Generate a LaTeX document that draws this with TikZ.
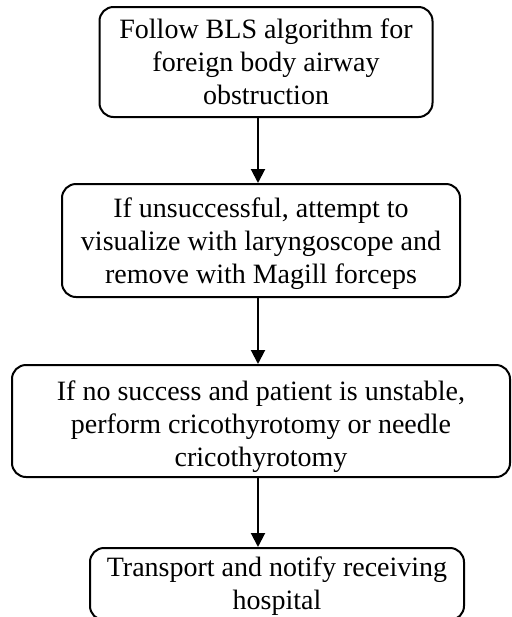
\documentclass[tikz,border=0pt]{standalone}
\usepackage{fontspec}
\setmainfont{Liberation Serif}
\usetikzlibrary{arrows.meta}
\tikzset{
  stepbox/.style={draw, line width=1pt, rounded corners=7pt, align=center,
    inner sep=0pt, font=\fontsize{14pt}{16.5pt}\selectfont},
  flow/.style={line width=1pt, -{Triangle[length=7pt,width=7pt]}}
}
% invisible strut that lowers a text block inside its box
\newcommand{\lowerby}[1]{\rule{0pt}{\dimexpr 9.5pt+#1\relax}}
\begin{document}
\begin{tikzpicture}[x=0.5pt,y=-0.5pt]
  \useasboundingbox (0,0) rectangle (512,617);
  \clip (0,0) rectangle (512,617);
  % process boxes, top to bottom
  \node[stepbox, minimum width=166.5pt, minimum height=55pt] (b1) at (266,62)
    {Follow BLS algorithm for\\foreign body airway\\obstruction};
  \node[stepbox, minimum width=199pt, minimum height=56.5pt] (b2) at (261,240.5)
    {\lowerby{4pt}If unsuccessful, attempt to\\visualize with laryngoscope and\\remove with Magill forceps};
  \node[stepbox, minimum width=249pt, minimum height=56pt] (b3) at (261,421)
    {\lowerby{6pt}If no success and patient is unstable,\\perform cricothyrotomy or needle\\cricothyrotomy};
  \node[stepbox, minimum width=187pt, minimum height=36pt] (b4) at (277,584)
    {\lowerby{2pt}Transport and notify receiving\\hospital};
  % connectors share one vertical line
  \coordinate (ax) at (258,0);
  \draw[flow] (b1.south -| ax) -- (b2.north -| ax);
  \draw[flow] (b2.south -| ax) -- (b3.north -| ax);
  \draw[flow] (b3.south -| ax) -- (b4.north -| ax);
\end{tikzpicture}
\end{document}
